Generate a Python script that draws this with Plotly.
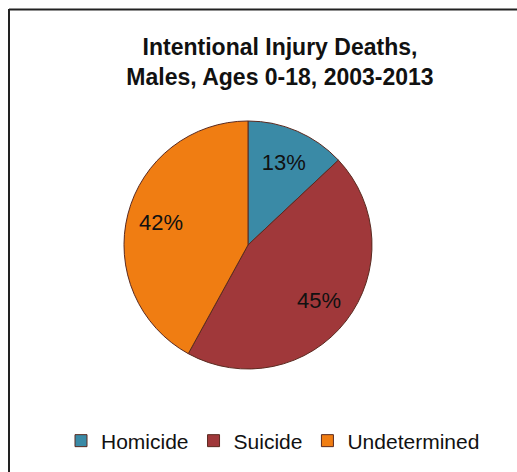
import plotly.graph_objects as go

categories = ["Homicide", "Suicide", "Undetermined"]
values = [13, 45, 42]
colors = ["#3a8aa6", "#a0383a", "#f07d12"]
title_text = "Intentional Injury Deaths,<br>Males, Ages 0-18, 2003-2013"

W, H = 517, 472
cx, cy, r = 248, 245, 124
dom = dict(x=[(cx - r) / W, (cx + r) / W], y=[1 - (cy + r) / H, 1 - (cy - r) / H])
font_family = "Liberation Sans, Arial"

fig = go.Figure()
# main pie (colours, legend)
fig.add_trace(go.Pie(
    labels=categories,
    values=values,
    sort=False,
    direction="clockwise",
    rotation=0,
    marker=dict(colors=colors, line=dict(color="#5a2a20", width=1)),
    textinfo="none",
    domain=dom,
    hoverinfo="label+percent",
))
# transparent overlay to place the percentage labels further out
fig.add_trace(go.Pie(
    labels=categories,
    values=values,
    sort=False,
    direction="clockwise",
    rotation=0,
    hole=0.45,
    marker=dict(colors=["rgba(0,0,0,0)"] * 3, line=dict(width=0)),
    texttemplate="%{value}%",
    textposition="inside",
    insidetextorientation="horizontal",
    textfont=dict(family=font_family, size=22, color="#111111"),
    domain=dom,
    showlegend=False,
    hoverinfo="skip",
))

fig.update_layout(
    width=W, height=H,
    margin=dict(l=0, r=0, t=0, b=0),
    paper_bgcolor="white",
    plot_bgcolor="white",
    title=dict(text="<b>" + title_text + "</b>", x=280 / W, xanchor="center", y=1 - 55 / H, yanchor="top",
               font=dict(family=font_family, size=23, color="#111111")),
    legend=dict(orientation="h", x=273 / W, xanchor="center", y=1 - 441 / H, yanchor="middle",
                font=dict(family=font_family, size=21, color="#111111"),
                itemwidth=30, traceorder="normal"),
    showlegend=True,
    shapes=[
        dict(type="line", xref="paper", yref="paper", x0=9 / W, x1=1.01, y0=1 - 9.5 / H, y1=1 - 9.5 / H,
             line=dict(color="#222222", width=2)),
        dict(type="line", xref="paper", yref="paper", x0=9 / W, x1=9 / W, y0=1 - 9 / H, y1=-0.01,
             line=dict(color="#222222", width=2)),
    ],
)

fig.write_html("out.html")
